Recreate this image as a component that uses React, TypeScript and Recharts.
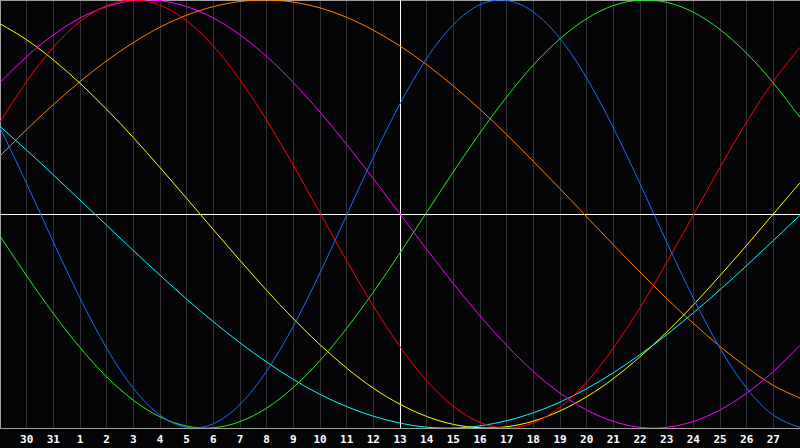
import React from 'react';
import { LineChart, Line, XAxis, YAxis, CartesianGrid, ReferenceLine } from 'recharts';

// day of month for each column of the chart (index 0 = left edge, 30 = right edge)
const days = [29, 30, 31, 1, 2, 3, 4, 5, 6, 7, 8, 9, 10, 11, 12, 13, 14, 15, 16, 17, 18, 19, 20, 21, 22, 23, 24, 25, 26, 27, 28];
const labelTicks = [1, 2, 3, 4, 5, 6, 7, 8, 9, 10, 11, 12, 13, 14, 15, 16, 17, 18, 19, 20, 21, 22, 23, 24, 25, 26, 27, 28, 29];
const todayIndex = 15;

// biorhythm values, -1..1
const physical = [0.403, 0.142, -0.131, -0.393, -0.627, -0.814, -0.940, -0.997, -0.980, -0.890, -0.734, -0.524, -0.275, -0.005, 0.265, 0.515, 0.727, 0.885, 0.978, 0.998, 0.944, 0.820, 0.635, 0.403, 0.142, -0.131, -0.393, -0.627, -0.814, -0.940, -0.997];
const emotional = [0.430, 0.620, 0.779, 0.899, 0.974, 1.0, 0.976, 0.903, 0.785, 0.627, 0.438, 0.227, 0.005, -0.218, -0.430, -0.620, -0.779, -0.899, -0.974, -1.0, -0.976, -0.903, -0.785, -0.627, -0.438, -0.227, -0.005, 0.218, 0.430, 0.620, 0.779];
const intellectual = [-0.103, -0.289, -0.465, -0.624, -0.761, -0.870, -0.948, -0.991, -0.999, -0.970, -0.907, -0.810, -0.685, -0.534, -0.365, -0.182, 0.008, 0.197, 0.379, 0.547, 0.696, 0.819, 0.913, 0.974, 0.999, 0.989, 0.943, 0.862, 0.751, 0.612, 0.452];
const intuitive = [0.614, 0.736, 0.837, 0.916, 0.969, 0.997, 0.997, 0.969, 0.916, 0.837, 0.736, 0.614, 0.476, 0.325, 0.165, 0.0, -0.165, -0.325, -0.476, -0.614, -0.736, -0.837, -0.916, -0.969, -0.997, -0.997, -0.969, -0.916, -0.837, -0.736, -0.614];
const aesthetic = [0.889, 0.814, 0.720, 0.611, 0.489, 0.357, 0.217, 0.073, -0.073, -0.217, -0.357, -0.489, -0.611, -0.720, -0.814, -0.889, -0.946, -0.983, -0.999, -0.994, -0.968, -0.920, -0.854, -0.769, -0.667, -0.552, -0.425, -0.288, -0.146, 0.0, 0.146];
const awareness = [0.271, 0.395, 0.511, 0.619, 0.716, 0.801, 0.873, 0.929, 0.969, 0.993, 1.0, 0.990, 0.963, 0.919, 0.859, 0.785, 0.698, 0.598, 0.489, 0.371, 0.246, 0.118, -0.013, -0.144, -0.271, -0.395, -0.511, -0.619, -0.716, -0.801, -0.860];
const spiritual = [0.409, 0.298, 0.183, 0.065, -0.053, -0.171, -0.286, -0.398, -0.503, -0.602, -0.692, -0.773, -0.843, -0.900, -0.945, -0.977, -0.996, -1.0, -0.990, -0.966, -0.929, -0.879, -0.816, -0.742, -0.657, -0.564, -0.462, -0.354, -0.241, -0.124, -0.006];

const data = days.map((day, i) => ({
  t: i,
  day,
  physical: physical[i],
  emotional: emotional[i],
  intellectual: intellectual[i],
  intuitive: intuitive[i],
  aesthetic: aesthetic[i],
  awareness: awareness[i],
  spiritual: spiritual[i],
}));

const series = [
  { key: 'awareness', color: '#ff8000' },
  { key: 'spiritual', color: '#00ffff' },
  { key: 'aesthetic', color: '#ffff00' },
  { key: 'intuitive', color: '#ff00ff' },
  { key: 'intellectual', color: '#22ee22' },
  { key: 'emotional', color: '#ff0000' },
  { key: 'physical', color: '#1a6cff' },
];

export default function App() {
  return (
    <div style={{ position: 'absolute', left: 0, top: 0, width: 800, height: 448, background: '#050508' }}>
      <LineChart width={800} height={448} data={data} margin={{ top: 0, right: 0, bottom: 0, left: 0 }}>
        <CartesianGrid vertical horizontal={false} stroke="#303030" shapeRendering="crispEdges" />
        <XAxis
          type="number"
          dataKey="t"
          domain={[0, 30]}
          ticks={labelTicks}
          tickFormatter={(v) => String(days[v])}
          height={20}
          tickSize={0}
          tickMargin={7}
          tickLine={false}
          axisLine={{ stroke: '#a0a0a0', shapeRendering: 'crispEdges' }}
          tick={{ fill: '#ffffff', fontSize: 11, fontWeight: 'bold', fontFamily: 'DejaVu Sans Mono' }}
          interval={0}
        />
        <YAxis hide domain={[-1, 1]} />
        <ReferenceLine x={0} stroke="#a0a0a0" strokeWidth={2} shapeRendering="crispEdges" />
        <ReferenceLine y={1} stroke="#a0a0a0" strokeWidth={2} shapeRendering="crispEdges" />
        <ReferenceLine x={todayIndex} stroke="#ffffff" shapeRendering="crispEdges" />
        <ReferenceLine y={0} stroke="#ffffff" shapeRendering="crispEdges" />
        {series.map((s) => (
          <Line
            key={s.key}
            type="natural"
            dataKey={s.key}
            stroke={s.color}
            strokeWidth={1}
            dot={false}
            activeDot={false}
            isAnimationActive={false}
          />
        ))}
      </LineChart>
    </div>
  );
}
